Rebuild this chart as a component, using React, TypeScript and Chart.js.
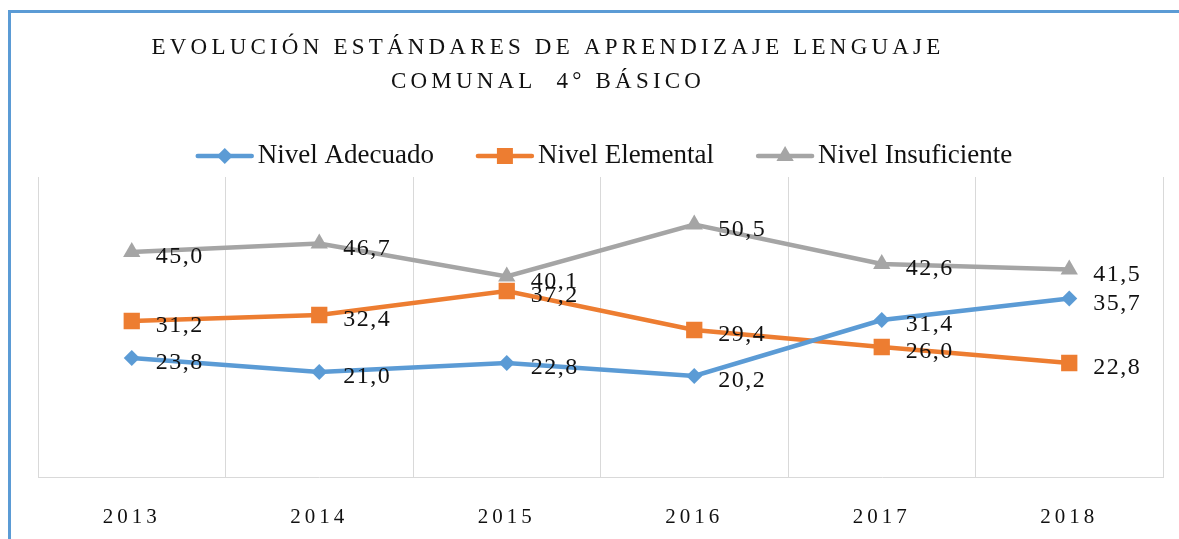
import React, { useEffect, useRef } from "react";
import { Chart, registerables } from "chart.js";

Chart.register(...registerables);

const years = ["2013", "2014", "2015", "2016", "2017", "2018"];
const adecuado = [23.8, 21.0, 22.8, 20.2, 31.4, 35.7];
const elemental = [31.2, 32.4, 37.2, 29.4, 26.0, 22.8];
const insuficiente = [45.0, 46.7, 40.1, 50.5, 42.6, 41.5];
const seriesNames = ["Nivel Adecuado", "Nivel Elemental", "Nivel Insuficiente"];
const seriesColors = ["#5B9BD5", "#ED7D31", "#A5A5A5"];
const titleLines = ["EVOLUCIÓN ESTÁNDARES DE APRENDIZAJE LENGUAJE", "COMUNAL  4° BÁSICO"];

const SERIF = "'Liberation Serif', 'DejaVu Serif', serif";

function drawMarker(ctx: CanvasRenderingContext2D, kind: number, x: number, y: number, color: string) {
  ctx.save();
  ctx.fillStyle = color;
  ctx.beginPath();
  if (kind === 0) {
    const r = 8;
    ctx.moveTo(x, y - r);
    ctx.lineTo(x + r, y);
    ctx.lineTo(x, y + r);
    ctx.lineTo(x - r, y);
  } else if (kind === 1) {
    const h = 8;
    ctx.rect(x - h, y - h, 2 * h, 2 * h);
  } else {
    const r = 10;
    ctx.moveTo(x, y - r);
    ctx.lineTo(x + r * 0.866, y + r * 0.5);
    ctx.lineTo(x - r * 0.866, y + r * 0.5);
  }
  ctx.closePath();
  ctx.fill();
  ctx.restore();
}

const decorPlugin = {
  id: "decor",
  beforeDraw(chart: any) {
    (chart.ctx as any).letterSpacing = "4px";
  },
  afterDraw(chart: any) {
    const ctx: CanvasRenderingContext2D = chart.ctx;
    // Title
    ctx.save();
    (ctx as any).letterSpacing = "4.2px";
    ctx.fillStyle = "#111";
    ctx.font = `23px ${SERIF}`;
    ctx.textAlign = "center";
    ctx.textBaseline = "alphabetic";
    ctx.fillText(titleLines[0], 548, 54);
    ctx.fillText(titleLines[1], 548, 88);
    ctx.restore();

    // Legend
    ctx.save();
    (ctx as any).letterSpacing = "0px";
    ctx.font = `27px ${SERIF}`;
    ctx.textBaseline = "alphabetic";
    ctx.textAlign = "left";
    const lineW = 54;
    const gap = 6;
    const itemGap = 44;
    const widths = seriesNames.map((n) => ctx.measureText(n).width);
    const total = widths.reduce((a, w) => a + lineW + gap + w, 0) + itemGap * (seriesNames.length - 1);
    let x = 605 - total / 2;
    const ly = 156;
    seriesNames.forEach((name, i) => {
      ctx.strokeStyle = seriesColors[i];
      ctx.lineWidth = 4.5;
      ctx.lineCap = "round";
      ctx.beginPath();
      ctx.moveTo(x, ly);
      ctx.lineTo(x + lineW, ly);
      ctx.stroke();
      drawMarker(ctx, i, x + lineW / 2, ly, seriesColors[i]);
      ctx.fillStyle = "#111";
      ctx.fillText(name, x + lineW + gap, ly + 7);
      x += lineW + gap + widths[i] + itemGap;
    });
    ctx.restore();

    // Data labels
    ctx.save();
    (ctx as any).letterSpacing = "1.5px";
    ctx.font = `24px ${SERIF}`;
    ctx.fillStyle = "#111";
    ctx.textAlign = "left";
    ctx.textBaseline = "alphabetic";
    chart.data.datasets.forEach((ds: any, di: number) => {
      const meta = chart.getDatasetMeta(di);
      meta.data.forEach((pt: any, i: number) => {
        const v = ds.data[i] as number;
        const label = v.toFixed(1).replace(".", ",");
        ctx.fillText(label, pt.x + 24, pt.y + 11);
      });
    });
    ctx.restore();
    (ctx as any).letterSpacing = "0px";
  },
};

export default function App() {
  const ref = useRef<HTMLCanvasElement | null>(null);
  useEffect(() => {
    if (!ref.current) return;
    const chart = new Chart(ref.current, {
      type: "line",
      data: {
        labels: years,
        datasets: [
          {
            label: seriesNames[0],
            data: adecuado,
            borderColor: seriesColors[0],
            backgroundColor: seriesColors[0],
            borderWidth: 4.5,
            pointStyle: "rectRot",
            pointRadius: 8,
            pointBorderWidth: 0,
            tension: 0,
          },
          {
            label: seriesNames[1],
            data: elemental,
            borderColor: seriesColors[1],
            backgroundColor: seriesColors[1],
            borderWidth: 4.5,
            pointStyle: "rect",
            pointRadius: 11.5,
            pointBorderWidth: 0,
            tension: 0,
          },
          {
            label: seriesNames[2],
            data: insuficiente,
            borderColor: seriesColors[2],
            backgroundColor: seriesColors[2],
            borderWidth: 4.5,
            pointStyle: "triangle",
            pointRadius: 10,
            pointBorderWidth: 0,
            tension: 0,
          },
        ],
      },
      options: {
        responsive: false,
        animation: false,
        layout: { padding: { left: 38, right: 16, top: 177, bottom: 0 } },
        plugins: {
          legend: { display: false },
          title: { display: false },
          tooltip: { enabled: false },
        },
        scales: {
          x: {
            offset: true,
            grid: { offset: true, color: "#d9d9d9", lineWidth: 1, drawTicks: false },
            border: { color: "#d9d9d9", width: 1 },
            ticks: {
              font: { family: SERIF, size: 21 },
              color: "#111",
              padding: 28,
              maxRotation: 0,
              autoSkip: false,
            },
            afterFit: (s: any) => {
              s.height = 62;
            },
          },
          y: { display: false, min: 0, max: 60 },
        },
      },
      plugins: [decorPlugin],
    });
    return () => chart.destroy();
  }, []);

  return (
    <div style={{ position: "fixed", left: 0, top: 0, width: 1179, height: 539, background: "#fff", overflow: "hidden" }}>
      <div
        style={{
          position: "absolute",
          left: 8,
          top: 10,
          width: 1179,
          height: 539,
          borderLeft: "3px solid #5B9BD5",
          borderTop: "3px solid #5B9BD5",
        }}
      />
      <canvas ref={ref} width={1179} height={539} style={{ position: "absolute", left: 0, top: 0, width: 1179, height: 539 }} />
    </div>
  );
}
